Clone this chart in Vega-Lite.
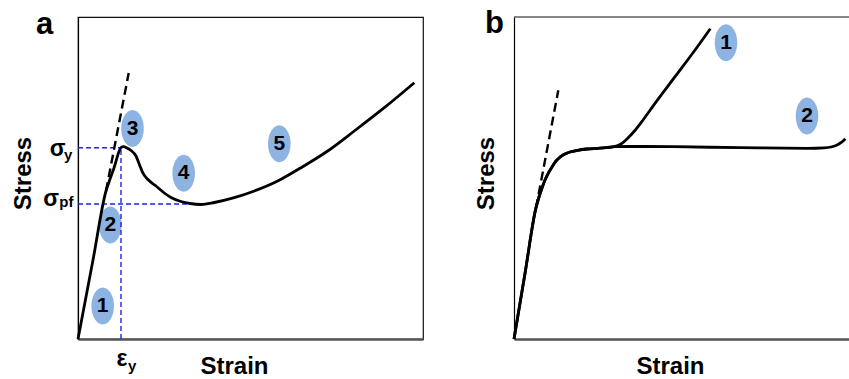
{
  "$schema": "https://vega.github.io/schema/vega-lite/v6.json",
  "padding": {"left": 10, "top": 7, "right": 0, "bottom": 0},
  "autosize": {"type": "pad"},
  "background": "white",
  "bounds": "flush",
  "spacing": 91,
  "config": {
    "font": "Liberation Sans",
    "view": {"stroke": null},
    "axis": {"ticks": false, "labels": false, "grid": false, "titleFontSize": 24, "titleFontWeight": "bold", "titleColor": "#000", "titleBaseline": "alphabetic"},
    "axisX": {"domainColor": "#555", "domainWidth": 2.5, "titlePadding": 34, "titleX": 156},
    "axisY": {"domainColor": "#000", "domainWidth": 1.2, "titleY": 156}
  },
  "datasets": {
    "a_curve": [
      {"x": 0, "y": 0}, {"x": 15, "y": 79}, {"x": 28, "y": 148}, {"x": 31, "y": 157}, {"x": 36, "y": 171},
      {"x": 43, "y": 191.3}, {"x": 45.5, "y": 192.3}, {"x": 49, "y": 191}, {"x": 53, "y": 188.5}, {"x": 58, "y": 183},
      {"x": 61.3, "y": 174.7}, {"x": 64.7, "y": 166.3}, {"x": 69.7, "y": 159.7}, {"x": 78, "y": 153}, {"x": 86.3, "y": 146},
      {"x": 93, "y": 141.5}, {"x": 103, "y": 137.5}, {"x": 112, "y": 135.5}, {"x": 123, "y": 134.5}, {"x": 136.3, "y": 136.5},
      {"x": 156.3, "y": 141.3}, {"x": 176.3, "y": 148}, {"x": 199.7, "y": 158}, {"x": 223, "y": 171.3}, {"x": 249.7, "y": 188},
      {"x": 276.3, "y": 208}, {"x": 306.3, "y": 231.3}, {"x": 336.3, "y": 256.3}
    ],
    "a_dash": [{"x": 28, "y": 148}, {"x": 50.7, "y": 266}],
    "a_guides": [
      {"g": "sy", "x": 0, "y": 191.3}, {"g": "sy", "x": 43, "y": 191.3},
      {"g": "spf", "x": 0, "y": 135}, {"g": "spf", "x": 123, "y": 135},
      {"g": "ey", "x": 43, "y": 0}, {"g": "ey", "x": 43, "y": 191.3}
    ],
    "a_marks": [
      {"x": 24.7, "y": 33, "n": "1"}, {"x": 32.3, "y": 114, "n": "2"}, {"x": 54.5, "y": 210.5, "n": "3"},
      {"x": 105.7, "y": 165.7, "n": "4"}, {"x": 201.3, "y": 195.3, "n": "5"}
    ],
    "a_sym": [{"x": -20.3, "y": 183, "t": "σ"}, {"x": -27, "y": 133, "t": "σ"}, {"x": 44, "y": -27, "t": "ε"}],
    "a_sub": [{"x": -14, "y": 179.5, "t": "y"}, {"x": -18.7, "y": 132.2, "t": "pf"}, {"x": 50, "y": -32, "t": "y"}],
    "a_tag": [{"x": -33.5, "y": 305, "t": "a"}],
    "b_curve": [
      {"g": "1", "x": 0, "y": 0}, {"g": "1", "x": 11, "y": 65.5}, {"g": "1", "x": 22, "y": 131.3}, {"g": "1", "x": 25, "y": 142},
      {"g": "1", "x": 28, "y": 151}, {"g": "1", "x": 31, "y": 159}, {"g": "1", "x": 33.7, "y": 164.7}, {"g": "1", "x": 38, "y": 172},
      {"g": "1", "x": 42, "y": 178}, {"g": "1", "x": 46, "y": 181.8}, {"g": "1", "x": 50.3, "y": 184.7}, {"g": "1", "x": 56, "y": 187},
      {"g": "1", "x": 63.7, "y": 188.7}, {"g": "1", "x": 73, "y": 190}, {"g": "1", "x": 83.7, "y": 190.7}, {"g": "1", "x": 92, "y": 191.3},
      {"g": "1", "x": 100.3, "y": 192.3}, {"g": "1", "x": 107, "y": 195}, {"g": "1", "x": 113.7, "y": 200.7}, {"g": "1", "x": 120, "y": 207.5},
      {"g": "1", "x": 127, "y": 216.3}, {"g": "1", "x": 140.3, "y": 234.7}, {"g": "1", "x": 160.3, "y": 261.3}, {"g": "1", "x": 180.3, "y": 288},
      {"g": "1", "x": 196.3, "y": 310.3},
      {"g": "2", "x": 0, "y": 0}, {"g": "2", "x": 11, "y": 65.5}, {"g": "2", "x": 22, "y": 131.3}, {"g": "2", "x": 25, "y": 142},
      {"g": "2", "x": 28, "y": 151}, {"g": "2", "x": 31, "y": 159}, {"g": "2", "x": 33.7, "y": 164.7}, {"g": "2", "x": 38, "y": 172},
      {"g": "2", "x": 42, "y": 178}, {"g": "2", "x": 46, "y": 181.8}, {"g": "2", "x": 50.3, "y": 184.7}, {"g": "2", "x": 56, "y": 187},
      {"g": "2", "x": 63.7, "y": 188.7}, {"g": "2", "x": 73, "y": 190}, {"g": "2", "x": 83.7, "y": 190.7}, {"g": "2", "x": 92, "y": 191.3},
      {"g": "2", "x": 100.3, "y": 192.3}, {"g": "2", "x": 115, "y": 192.5}, {"g": "2", "x": 130, "y": 192.5}, {"g": "2", "x": 160.3, "y": 192.3},
      {"g": "2", "x": 227, "y": 191.3}, {"g": "2", "x": 293.7, "y": 190.7}, {"g": "2", "x": 310, "y": 191.2}, {"g": "2", "x": 317, "y": 192},
      {"g": "2", "x": 322, "y": 193.5}, {"g": "2", "x": 325.3, "y": 195.3}, {"g": "2", "x": 328.5, "y": 197.5}, {"g": "2", "x": 331.3, "y": 200.3}
    ],
    "b_dash": [{"x": 22, "y": 131}, {"x": 44.3, "y": 248.7}],
    "b_marks": [{"x": 212, "y": 296.3, "n": "1"}, {"x": 293, "y": 223, "n": "2"}],
    "b_tag": [{"x": -19.5, "y": 306, "t": "b"}]
  },
  "hconcat": [
    {
      "width": 345,
      "height": 322,
      "view": {"stroke": "#111", "strokeWidth": 1.2},
      "encoding": {
        "x": {"field": "x", "type": "quantitative", "scale": {"domain": [0, 345], "nice": false, "zero": false}, "axis": {"title": "Strain"}},
        "y": {"field": "y", "type": "quantitative", "scale": {"domain": [0, 322], "nice": false, "zero": false}, "axis": {"title": "Stress", "titlePadding": 48}}
      },
      "layer": [
        {"data": {"name": "a_marks"}, "mark": {"type": "point", "shape": "M0,-1C0.337,-1 0.61,-0.552 0.61,0C0.61,0.552 0.337,1 0,1C-0.337,1 -0.61,0.552 -0.61,0C-0.61,-0.552 -0.337,-1 0,-1Z", "size": 1369, "filled": true, "color": "#8DB3E2", "opacity": 1, "strokeWidth": 0}},
        {"data": {"name": "a_guides"}, "mark": {"type": "line", "color": "#1f1fff", "strokeWidth": 1.4, "strokeDash": [5, 3]}, "encoding": {"detail": {"field": "g"}}},
        {"data": {"name": "a_dash"}, "mark": {"type": "line", "color": "#000", "strokeWidth": 2.4, "strokeDash": [9, 5]}},
        {"data": {"name": "a_curve"}, "mark": {"type": "line", "color": "#000", "strokeWidth": 2.8, "interpolate": "monotone"}},
        {"data": {"name": "a_marks"}, "mark": {"type": "text", "fontSize": 21, "fontWeight": "bold", "color": "#000", "baseline": "middle", "align": "center"}, "encoding": {"text": {"field": "n"}}},
        {"data": {"name": "a_sym"}, "mark": {"type": "text", "fontSize": 23, "fontWeight": "bold", "color": "#000", "align": "center", "baseline": "alphabetic"}, "encoding": {"text": {"field": "t"}}},
        {"data": {"name": "a_sub"}, "mark": {"type": "text", "fontSize": 15, "fontWeight": "bold", "color": "#000", "align": "left", "baseline": "alphabetic"}, "encoding": {"text": {"field": "t"}}},
        {"data": {"name": "a_tag"}, "mark": {"type": "text", "fontSize": 31, "fontWeight": "bold", "color": "#000", "align": "center", "baseline": "alphabetic"}, "encoding": {"text": {"field": "t"}}}
      ]
    },
    {
      "width": 336,
      "height": 322,
      "encoding": {
        "x": {"field": "x", "type": "quantitative", "scale": {"domain": [0, 336], "nice": false, "zero": false}, "axis": {"title": "Strain"}},
        "y": {"field": "y", "type": "quantitative", "scale": {"domain": [0, 322], "nice": false, "zero": false}, "axis": {"title": "Stress", "titlePadding": 21}}
      },
      "layer": [
        {"data": {"name": "b_tag"}, "mark": {"type": "rule", "color": "#111", "strokeWidth": 1.2}, "encoding": {"x": {"datum": 0}, "x2": {"datum": 336}, "y": {"datum": 322}}},
        {"data": {"name": "b_marks"}, "mark": {"type": "point", "shape": "M0,-1C0.337,-1 0.61,-0.552 0.61,0C0.61,0.552 0.337,1 0,1C-0.337,1 -0.61,0.552 -0.61,0C-0.61,-0.552 -0.337,-1 0,-1Z", "size": 1369, "filled": true, "color": "#8DB3E2", "opacity": 1, "strokeWidth": 0}},
        {"data": {"name": "b_dash"}, "mark": {"type": "line", "color": "#000", "strokeWidth": 2.4, "strokeDash": [9, 5]}},
        {"data": {"name": "b_curve"}, "mark": {"type": "line", "color": "#000", "strokeWidth": 2.8, "interpolate": "monotone"}, "encoding": {"detail": {"field": "g"}}},
        {"data": {"name": "b_marks"}, "mark": {"type": "text", "fontSize": 21, "fontWeight": "bold", "color": "#000", "baseline": "middle", "align": "center"}, "encoding": {"text": {"field": "n"}}},
        {"data": {"name": "b_tag"}, "mark": {"type": "text", "fontSize": 31, "fontWeight": "bold", "color": "#000", "align": "center", "baseline": "alphabetic"}, "encoding": {"text": {"field": "t"}}}
      ]
    }
  ]
}
